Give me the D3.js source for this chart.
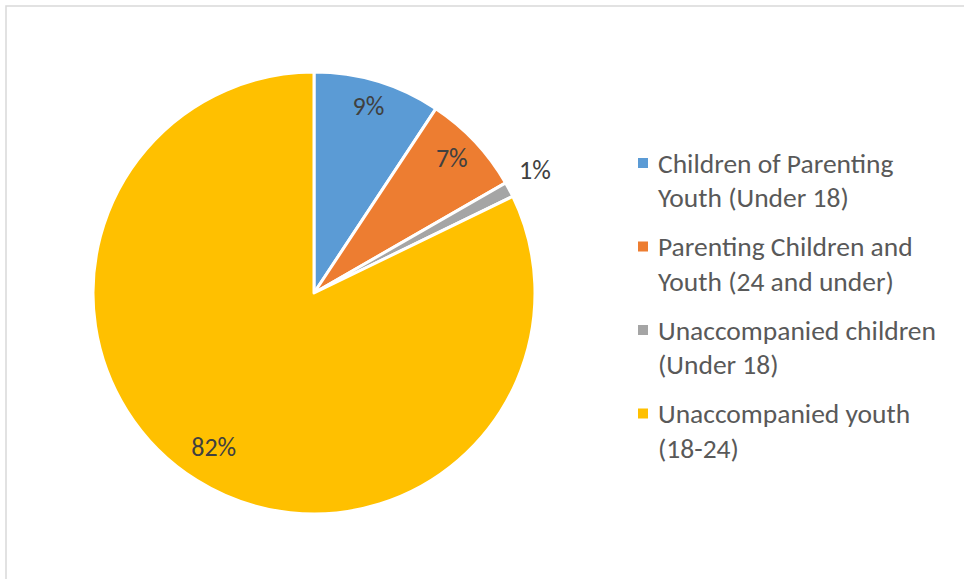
<!DOCTYPE html>
<html>
<head>
<meta charset="utf-8">
<script src="https://cdn.jsdelivr.net/npm/d3@7"></script>
<style>
body { margin: 0; background: #fff; }
svg { display: block; font-family: Calibri, Carlito, "Open Sans", "Liberation Sans", sans-serif; }
</style>
</head>
<body>
<svg id="chart"></svg>
<script>
// data
var categories = ["Children of Parenting Youth (Under 18)", "Parenting Children and Youth (24 and under)",
	"Unaccompanied children (Under 18)", "Unaccompanied youth (18-24)"];
var legendLines = [["Children of Parenting", "Youth (Under 18)"], ["Parenting Children and", "Youth (24 and under)"],
	["Unaccompanied children", "(Under 18)"], ["Unaccompanied youth", "(18-24)"]];
var values = [9.3, 7.4, 1.1, 82.2];
var labels = ["9%", "7%", "1%", "82%"];
var colors = ["#5B9BD5", "#ED7D31", "#A5A5A5", "#FFC000"];

var svgWidth = 964, svgHeight = 579;
var cx = 314, cy = 293, radius = 221;

var svg = d3.select("#chart")
	.attr("width", svgWidth)
	.attr("height", svgHeight);

// chart border
svg.append("rect")
	.attr("x", 6).attr("y", 6)
	.attr("width", svgWidth + 10).attr("height", svgHeight + 10)
	.attr("fill", "none")
	.attr("stroke", "#d9d9d9")
	.attr("stroke-width", 1.5);

var pie = d3.pie().sort(null).value(function(d){ return d; });
var arcs = pie(values);

var arc = d3.arc().innerRadius(0).outerRadius(radius);
var labelArc = d3.arc().innerRadius(189).outerRadius(189);
var outArc = d3.arc().innerRadius(250).outerRadius(250);

var g = svg.append("g").attr("transform", "translate(" + cx + "," + cy + ")");

g.selectAll("path")
	.data(arcs)
	.enter()
	.append("path")
	.attr("d", arc)
	.attr("fill", function(d, i){ return colors[i]; })
	.attr("stroke", "#fff")
	.attr("stroke-width", 3)
	.attr("stroke-linejoin", "round");

g.selectAll("text.lbl")
	.data(arcs)
	.enter()
	.append("text")
	.attr("class", "lbl")
	.attr("transform", function(d, i){
		var p = (i == 2 ? outArc : labelArc).centroid(d);
		return "translate(" + p[0] + "," + (p[1] - 6) + ")";
	})
	.attr("text-anchor", "middle")
	.attr("dy", "0.35em")
	.attr("font-size", 26)
	.attr("fill", "#404040")
	.text(function(d, i){ return labels[i]; });

// legend
var legend = svg.selectAll("g.leg")
	.data(categories)
	.enter()
	.append("g")
	.attr("class", "leg")
	.attr("transform", function(d, i){ return "translate(638," + (163 + i * 83.5) + ")"; });

legend.append("rect")
	.attr("x", 0).attr("y", -5)
	.attr("width", 10).attr("height", 10)
	.attr("fill", function(d, i){ return colors[i]; });

legend.append("text")
	.attr("x", 20)
	.attr("font-size", 27.5)
	.attr("fill", "#595959")
	.selectAll("tspan")
	.data(function(d, i){ return legendLines[i]; })
	.enter()
	.append("tspan")
	.attr("x", 20)
	.attr("y", function(d, j){ return j * 34.5; })
	.attr("dy", "0.35em")
	.text(function(d){ return d; });
</script>
</body>
</html>
